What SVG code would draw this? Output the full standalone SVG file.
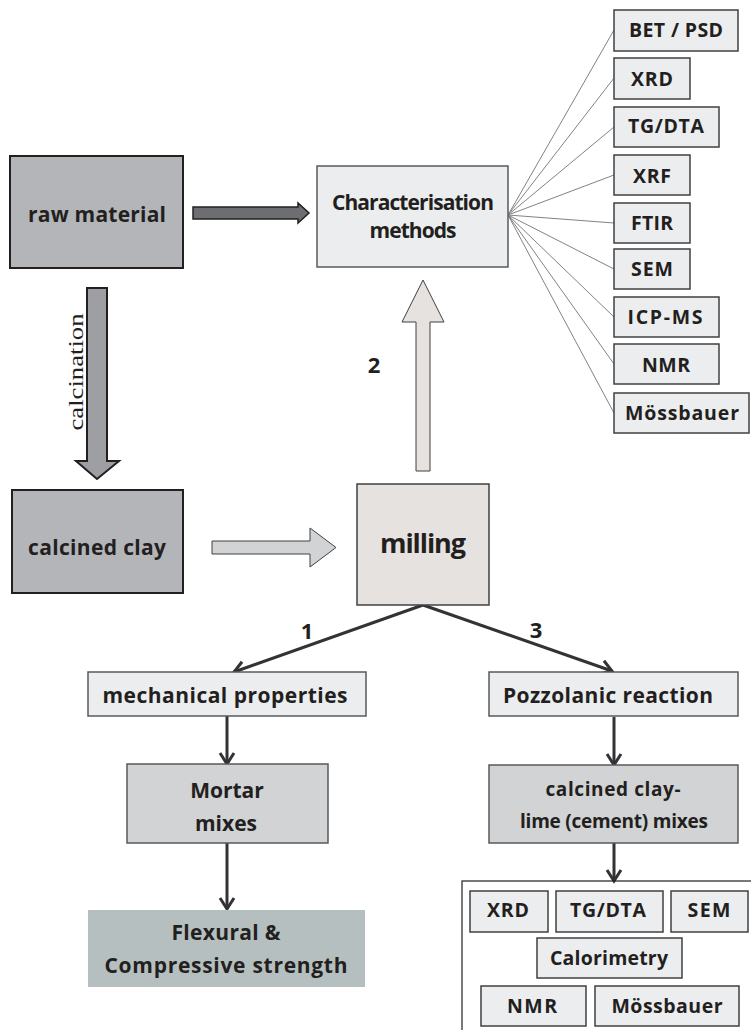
<svg xmlns="http://www.w3.org/2000/svg" width="751" height="1030" viewBox="0 0 751 1030">
<style>
.t{font-family:"Open Sans","Liberation Sans",sans-serif;font-weight:700;fill:#231f20;text-anchor:middle}
.s18{font-size:19.5px}.s19{font-size:21px}.s20{font-size:21px}
.box{fill:#ecedee;stroke:#414042;stroke-width:1.5}
.dark{fill:#b3b5b8;stroke:#231f20;stroke-width:2}
.mid{fill:#d1d3d4;stroke:#58595b;stroke-width:1.5}
.fan{stroke:#808285;stroke-width:1;fill:none}
.con{stroke:#333335;stroke-width:3;fill:none;marker-end:url(#v)}
</style>
<defs>
<marker id="v" markerUnits="userSpaceOnUse" markerWidth="20" markerHeight="20" viewBox="0 0 20 20" refX="16" refY="10" orient="auto">
<path d="M5,3 L16,10 L5,17" fill="none" stroke="#333335" stroke-width="3"/>
</marker>
</defs>
<rect width="751" height="1030" fill="#fff"/>
<g id="connectors">
<polygon points="193,207 298,207 298,203 309,213 298,223 298,219 193,219" fill="#6d6e71" stroke="#231f20" stroke-width="1.5"/>
<polygon points="87,288 107,288 107,461 119,461 97,479 76,461 87,461" fill="#9d9fa2" stroke="#231f20" stroke-width="2"/>
<text transform="translate(83,372) rotate(-90)" font-family="Liberation Serif, serif" font-size="21" fill="#231f20" text-anchor="middle" textLength="117" lengthAdjust="spacingAndGlyphs">calcination</text>
<polygon points="212,541 310,541 310,528 336,547.5 310,567 310,554 212,554" fill="#d1d3d4" stroke="#414042" stroke-width="1"/>
<polygon points="416,471 430,471 430,322 444,322 423,280 402,322 416,322" fill="#e5e2e0" stroke="#414042" stroke-width="1"/>
<text class="t" x="374" y="373" font-size="22">2</text>
<g class="fan">
<line x1="508" y1="215" x2="614" y2="30"/>
<line x1="508" y1="215" x2="614" y2="78"/>
<line x1="508" y1="215" x2="614" y2="127"/>
<line x1="508" y1="215" x2="614" y2="175"/>
<line x1="508" y1="215" x2="614" y2="223"/>
<line x1="508" y1="215" x2="614" y2="269"/>
<line x1="508" y1="215" x2="614" y2="317"/>
<line x1="508" y1="215" x2="614" y2="364"/>
<line x1="508" y1="215" x2="614" y2="413"/>
</g>
<line class="con" x1="423" y1="605" x2="234" y2="672"/>
<line class="con" x1="423" y1="605" x2="612" y2="671"/>
<text class="t" x="307" y="639" font-size="22">1</text>
<text class="t" x="536" y="638" font-size="22">3</text>
<line class="con" x1="227" y1="716" x2="227" y2="764"/>
<line class="con" x1="227" y1="843" x2="227" y2="909"/>
<line class="con" x1="614" y1="717" x2="614" y2="765"/>
<line class="con" x1="614" y1="843" x2="614" y2="881"/>
</g>
<g id="raw-material">
<rect class="dark" x="10" y="156" width="173" height="112"/>
<text class="t s20" x="97" y="222" textLength="138">raw material</text>
</g>
<g id="characterisation">
<rect x="317" y="166" width="191" height="101" fill="#ecedee" stroke="#58595b" stroke-width="1.5"/>
<text class="t s20" x="413" y="210" textLength="162">Characterisation</text>
<text class="t s20" x="413" y="238" textLength="87">methods</text>
</g>
<g id="bet-psd"><rect class="box" x="614" y="10" width="124" height="41"/><text class="t s18" x="676" y="37" textLength="94">BET / PSD</text></g>
<g id="xrd1"><rect class="box" x="614" y="58" width="76" height="41"/><text class="t s18" x="652" y="86" textLength="42">XRD</text></g>
<g id="tgdta1"><rect class="box" x="614" y="107" width="105" height="40"/><text class="t s18" x="666" y="133" textLength="76">TG/DTA</text></g>
<g id="xrf"><rect class="box" x="614" y="155" width="76" height="40"/><text class="t s18" x="652" y="183" textLength="38">XRF</text></g>
<g id="ftir"><rect class="box" x="614" y="203" width="76" height="40"/><text class="t s18" x="652" y="230" textLength="42">FTIR</text></g>
<g id="sem1"><rect class="box" x="614" y="249" width="76" height="40"/><text class="t s18" x="652" y="276" textLength="42">SEM</text></g>
<g id="icpms"><rect class="box" x="614" y="297" width="105" height="40"/><text class="t s18" x="665" y="324" textLength="75">ICP-MS</text></g>
<g id="nmr1"><rect class="box" x="614" y="344" width="105" height="40"/><text class="t s18" x="666" y="372" textLength="48">NMR</text></g>
<g id="moss1"><rect class="box" x="614" y="393" width="135" height="40"/><text class="t s18" x="682" y="420" textLength="114">Mössbauer</text></g>
<g id="calcined-clay">
<rect class="dark" x="12" y="490" width="171" height="103"/>
<text class="t s20" x="97" y="555" textLength="138">calcined clay</text>
</g>
<g id="milling">
<rect x="357" y="484" width="132" height="121" fill="#e5e2e0" stroke="#414042" stroke-width="1.5"/>
<text class="t" x="423" y="553" font-size="27" textLength="86">milling</text>
</g>
<g id="mechanical">
<rect x="88" y="672" width="278" height="44" fill="#ecedee" stroke="#58595b" stroke-width="1.5"/>
<text class="t s19" x="225" y="703" textLength="245">mechanical properties</text>
</g>
<g id="mortar">
<rect class="mid" x="127" y="764" width="201" height="79"/>
<text class="t s19" x="227" y="798">Mortar</text>
<text class="t s19" x="226" y="831">mixes</text>
</g>
<g id="flexural">
<rect x="88" y="910" width="277" height="77" fill="#b5bfbf"/>
<text class="t s19" x="226" y="940" textLength="109">Flexural &amp;</text>
<text class="t s19" x="226" y="973" textLength="243">Compressive  strength</text>
</g>
<g id="pozzolanic">
<rect x="489" y="672" width="249" height="44" fill="#ecedee" stroke="#58595b" stroke-width="1.5"/>
<text class="t s19" x="608" y="703" textLength="210">Pozzolanic reaction</text>
</g>
<g id="clay-lime-mixes">
<rect class="mid" x="489" y="765" width="249" height="78"/>
<text class="t" font-size="19" x="613" y="796" textLength="135">calcined clay-</text>
<text class="t" font-size="19" x="614" y="828" textLength="188">lime (cement) mixes</text>
</g>
<g id="analysis">
<rect x="462" y="881" width="320" height="170" fill="none" stroke="#231f20" stroke-width="1.2"/>
<g id="xrd2"><rect class="box" x="470" y="891" width="78" height="41"/><text class="t s18" x="508" y="917" textLength="42">XRD</text></g>
<g id="tgdta2"><rect class="box" x="556" y="891" width="107" height="41"/><text class="t s18" x="608" y="917" textLength="76">TG/DTA</text></g>
<g id="sem2"><rect class="box" x="671" y="891" width="77" height="41"/><text class="t s18" x="709" y="917" textLength="43">SEM</text></g>
<g id="calorimetry"><rect class="box" x="537" y="938" width="145" height="40"/><text class="t s18" x="609" y="965" textLength="118">Calorimetry</text></g>
<g id="nmr2"><rect class="box" x="481" y="986" width="105" height="40"/><text class="t s18" x="532" y="1013" textLength="50">NMR</text></g>
<g id="moss2"><rect class="box" x="595" y="986" width="144" height="40"/><text class="t s18" x="667" y="1013" textLength="111">Mössbauer</text></g>
</g>
</svg>
